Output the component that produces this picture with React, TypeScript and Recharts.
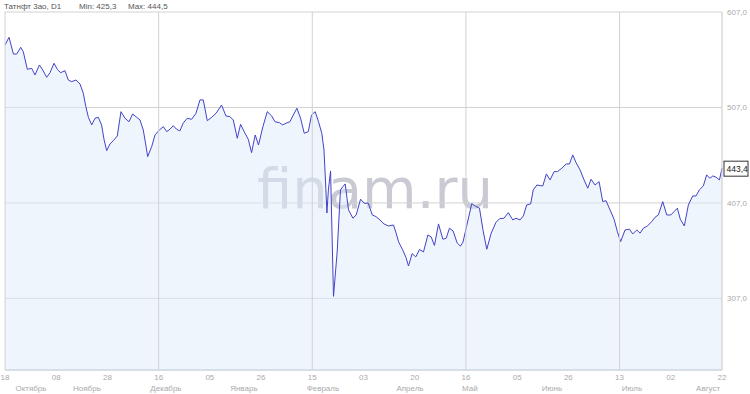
import React from 'react';
import { AreaChart, Area, XAxis, YAxis, CartesianGrid, ReferenceLine, ReferenceDot } from 'recharts';

const titleText = 'Татнфт 3ао, D1';
const minText = 'Min: 425,3';
const maxText = 'Max: 444,5';
const watermark = 'finam.ru';

const days = [0,1.1,2.3,3.2,4.3,5.0,6.1,7.3,8.2,9.4,10.3,11.4,12.3,13.4,14.3,15.2,16.4,17.3,18.2,19.4,20.5,21.4,22.1,22.8,23.7,24.6,25.5,26.4,27.1,27.8,28.7,29.6,30.7,31.7,32.8,33.9,34.9,36.0,36.9,37.8,38.5,39.0,40.1,41.0,42.2,43.3,44.2,45.1,46.0,46.9,47.8,48.7,49.8,51.0,52.2,53.3,54.2,55.3,56.5,57.7,59.2,60.4,61.5,62.4,63.5,64.4,65.6,66.5,67.4,68.4,69.3,70.5,71.7,72.9,73.8,75.0,75.9,76.8,77.9,78.8,79.8,80.8,81.8,82.9,83.8,84.8,85.7,86.6,87.2,87.6,88.0,88.4,89.0,89.8,90.8,91.7,92.4,93.0,93.9,95.1,96.0,97.2,98.2,99.3,100.4,101.4,102.5,103.6,104.8,106.2,106.9,107.6,108.7,109.6,110.3,111.3,112.3,113.3,114.4,115.6,116.5,117.4,118.5,119.7,120.6,121.5,122.5,123.6,124.5,125.2,126.2,127.6,128.6,129.7,130.7,131.7,132.9,134.2,135.2,136.4,137.6,138.8,139.7,140.8,141.7,142.6,143.7,144.4,145.4,146.5,147.0,148.0,149.0,150.1,151.0,152.2,153.4,154.3,155.2,156.1,157.2,158.3,159.3,160.2,161.3,162.4,163.4,164.3,165.4,166.5,167.4,168.3,169.5,170.7,171.6,172.7,173.6,174.5,175.6,176.8,177.7,178.6,179.8,180.9,182.0,182.9,183.8,184.6,185.7,186.8,188.0,188.9,189.8,190.9,191.8,192.7,193.5,194.4,195.3,196];

const prices = [572.4,580.5,563.0,563.0,570.0,565.4,547.0,548.0,541.0,551.5,546.3,538.6,543.4,553.3,547.0,543.4,545.5,535.8,534.0,535.8,531.6,521.9,507.8,496.7,488.7,495.7,496.7,488.7,473.0,461.8,468.8,472.2,477.2,502.6,495.7,492.1,500.2,496.7,493.9,483.4,467.7,455.5,466.0,478.2,483.4,486.9,481.7,484.2,487.9,484.2,482.4,490.5,495.7,494.6,500.9,514.9,514.9,493.2,496.7,500.9,509.6,498.1,497.4,493.9,474.7,489.4,480.0,473.7,459.7,478.2,467.7,486.9,502.6,498.1,492.1,491.1,488.7,490.5,492.1,499.1,506.2,495.7,480.0,481.7,499.1,502.6,492.1,480.0,462.5,431.1,396.5,420.6,440.5,309.1,355.7,420.6,424.3,426.9,399.7,391.0,394.4,410.9,406.7,406.7,394.4,392.7,389.2,385.0,382.9,383.9,375.6,366.2,357.8,350.1,341.0,353.9,350.5,358.2,355.7,373.5,371.4,362.5,385.0,369.0,370.0,380.5,377.5,365.1,361.7,366.0,382.9,406.3,403.5,401.5,377.9,358.5,375.2,386.6,390.5,391.0,396.8,389.2,391.0,389.2,393.4,404.9,406.0,420.6,425.8,425.0,424.8,437.4,431.1,439.8,439.8,443.3,447.8,447.8,457.3,449.2,441.6,431.1,422.4,431.8,425.8,429.3,408.4,409.4,399.7,389.9,376.9,366.5,378.7,379.5,374.5,378.7,375.3,380.5,382.9,387.4,392.0,394.4,408.4,394.4,394.4,397.9,401.5,389.9,382.9,404.9,414.3,414.3,420.6,424.8,436.3,432.9,435.3,433.9,431.1,443.4];

const tickDays = [0,14,28,42,56,70,84,98,112,126,140,154,168,182,196];
const tickLabels = ['18','08','28','16','05','26','15','03','20','16','05','26','13','02','22'];
const monthDays = [7.1,22.4,44,65.3,86.9,110.7,127.1,149.5,171.4,192.2];
const monthLabels = ['Октябрь','Ноябрь','Декабрь','Январь','Февраль','Апрель','Май','Июнь','Июль','Август'];
const yTicks = [307,407,507,607];
const gridDays = [42,84,126,168];
const lastPrice = prices[prices.length - 1];
const lastDay = days[days.length - 1];

const n = Math.min(days.length, prices.length);
const data = days.slice(0, n).map((d, i) => ({ day: d, price: prices[i] }));

const fmt = (v: number) => v.toFixed(1).replace('.', ',');
const FONT = '"Liberation Sans", Arial, sans-serif';

const LastLabel = (props: any) => {
  const { cx, cy } = props;
  return (
    <g>
      <rect x={cx + 2} y={cy - 7} width={24} height={15} fill="#fff" stroke="#333" strokeWidth={1} />
      <text x={cx + 4.5} y={cy + 3.5} fontSize={8.5} fill="#222" fontFamily={FONT}>{fmt(lastPrice)}</text>
    </g>
  );
};

export default function App() {
  return (
    <div style={{ position: 'absolute', left: 0, top: 0, width: 750, height: 394, background: '#fff', overflow: 'hidden' }}>
      <svg width={750} height={394} style={{ position: 'absolute', left: 0, top: 0 }}>
        <text x={257} y={208} fontSize={56} fontFamily='"DejaVu Sans", sans-serif' fill="#c9cad3">{watermark}</text>
        <text x={4} y={9} fontSize={8} fontFamily={FONT} fill="#555">{titleText}</text>
        <text x={79} y={9} fontSize={8} fontFamily={FONT} fill="#555">{minText}</text>
        <text x={128} y={9} fontSize={8} fontFamily={FONT} fill="#555">{maxText}</text>
      </svg>
      <div style={{ position: 'absolute', left: 0, top: 0 }}>
        <AreaChart width={750} height={394} data={data} margin={{ top: 12, right: 0, left: 5, bottom: 0 }}>
          <CartesianGrid horizontal={true} vertical={false} stroke="#d2d2d2" />
          <XAxis
            type="number"
            dataKey="day"
            domain={[0, 196]}
            ticks={tickDays}
            interval={0}
            tickFormatter={(v: number) => tickLabels[tickDays.indexOf(v)] ?? ''}
            tickLine={false}
            tickSize={0}
            tickMargin={4}
            height={11}
            axisLine={{ stroke: '#c6d3e3' }}
            tick={{ fontSize: 8, fill: '#aaa', fontFamily: FONT }}
          />
          <XAxis
            xAxisId="m"
            type="number"
            dataKey="day"
            domain={[0, 196]}
            ticks={monthDays}
            interval={0}
            tickFormatter={(v: number) => monthLabels[monthDays.indexOf(v)] ?? ''}
            tickLine={false}
            tickSize={0}
            tickMargin={4}
            height={13}
            axisLine={false}
            tick={{ fontSize: 8, fill: '#aaa', fontFamily: FONT }}
          />
          <YAxis
            orientation="right"
            type="number"
            domain={[232, 607]}
            ticks={yTicks}
            interval={0}
            width={28}
            tickFormatter={fmt}
            tickLine={false}
            tickSize={0}
            tickMargin={5}
            axisLine={false}
            tick={{ fontSize: 8, fill: '#aaa', fontFamily: FONT }}
          />
          {gridDays.map((d) => (
            <ReferenceLine key={d} x={d} stroke="#d2d2d2" />
          ))}
          <ReferenceLine x={0} stroke="#d2d2d2" />
          <ReferenceLine x={196} stroke="#c8c8c8" />
          <Area
            type="linear"
            dataKey="price"
            stroke="#4343c8"
            strokeWidth={1}
            fill="#ddebfb"
            fillOpacity={0.5}
            isAnimationActive={false}
            dot={false}
            activeDot={false}
          />
          <ReferenceDot x={lastDay} y={lastPrice} r={0} shape={LastLabel} ifOverflow="visible" />
        </AreaChart>
      </div>
    </div>
  );
}
